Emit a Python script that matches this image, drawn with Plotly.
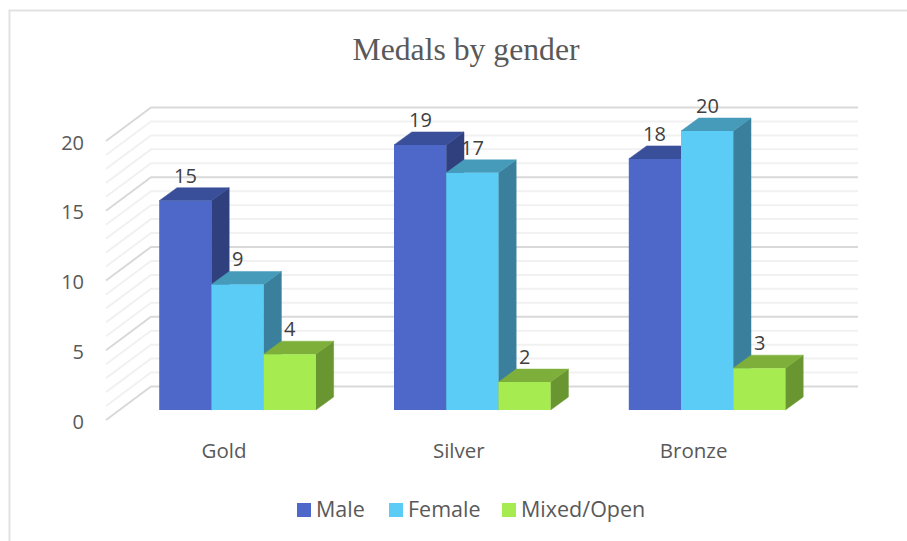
import plotly.graph_objects as go

categories = ["Gold", "Silver", "Bronze"]
male = [15, 19, 18]
female = [9, 17, 20]
mixed = [4, 2, 3]
series_names = ["Male", "Female", "Mixed/Open"]
y_ticks = [0, 5, 10, 15, 20]

W, H = 907, 541
L, R, T, B = 85, 870, 90, 436           # plot-area box, pixels
UX, UY = 234.8, 13.95                   # pixels per category / per medal
X0_PX, Y0_PX = 237.5, 410               # where category 0 / value 0 land
BAR = 52.2 / UX
DX, DY = 17.8 / UX, 13.0 / UY           # bar depth
WALL_FX, WALL_BX, WALL_RX = (106 - X0_PX) / UX, (151 - X0_PX) / UX, (858 - X0_PX) / UX
WALL_FY, WALL_BY = -10.0 / UY, 23.5 / UY

front = ["#4E68C9", "#5BCCF5", "#A6EB50"]
top = ["#3A4F99", "#469BBB", "#7EAF3B"]
side = ["#30407F", "#3A809C", "#6A9632"]
series = [male, female, mixed]
legend_swatch_px = [297, 389, 502]      # left edge of each legend square


def px(x):
    return (x - L) / (R - L)


def py(y):
    return (B - y) / (B - T)


def poly(xs, ys, color):
    path = "M" + " L".join(f"{a},{b}" for a, b in zip(xs, ys)) + " Z"
    return dict(type="path", path=path, xref="x", yref="y", layer="below",
                fillcolor=color, line=dict(color=color, width=0.5))


shapes = [dict(type="path", xref="paper", yref="paper", layer="below",
               path=f"M{px(9.5)},{py(541)} L{px(9.5)},{py(10.5)} L{px(907)},{py(10.5)}",
               line=dict(color="#E2E2E2", width=2))]

# walls: minor lines first, then major ones
for major in (False, True):
    for v in range(0, 21):
        if (v % 5 == 0) != major:
            continue
        color, width = ("#D9D9D9", 2) if major else ("#F1F1F1", 2)
        path = (f"M{WALL_FX},{v + WALL_FY} L{WALL_BX},{v + WALL_BY} L{WALL_RX},{v + WALL_BY}")
        shapes.append(dict(type="path", path=path, xref="x", yref="y", layer="below",
                           line=dict(color=color, width=width)))

# bar depth faces, left to right
annotations = []
for i in range(len(categories)):
    for k, vals in enumerate(series):
        v = vals[i]
        a = i + (k - 1.5) * BAR
        b = a + BAR
        shapes.append(poly([b, b + DX, b + DX, b], [0, DY, v + DY, v], side[k]))
        shapes.append(poly([a, a + DX, b + DX, b], [v, v + DY, v + DY, v], top[k]))
        annotations.append(dict(x=(a + b) / 2, y=v, yshift=25.5, text=str(v), showarrow=False,
                                xanchor="center", yanchor="middle",
                                font=dict(family="Open Sans", size=20, color="#404040")))

# legend row
for k, name in enumerate(series_names):
    x = legend_swatch_px[k]
    shapes.append(dict(type="rect", xref="paper", yref="paper", layer="above",
                       x0=px(x), x1=px(x + 14), y0=py(503), y1=py(517),
                       fillcolor=front[k], line=dict(width=0)))
    annotations.append(dict(xref="paper", yref="paper", x=px(x + 17), y=py(508.5), text=name,
                            showarrow=False, xanchor="left", yanchor="middle",
                            font=dict(family="Open Sans", size=21.5, color="#595959")))

fig = go.Figure()
xs = list(range(len(categories)))
for k, vals in enumerate(series):
    fig.add_trace(go.Bar(x=xs, y=vals, name=series_names[k], marker=dict(color=front[k], line=dict(width=0)),
                         hoverinfo="skip"))

fig.update_layout(
    width=W, height=H, margin=dict(l=L, r=W - R, t=T, b=H - B, pad=0),
    paper_bgcolor="white", plot_bgcolor="rgba(0,0,0,0)",
    barmode="group", bargap=1 - 3 * BAR, bargroupgap=0,
    shapes=shapes, annotations=annotations,
    title=dict(text="Medals by gender", x=px(466), xref="paper", xanchor="center",
               y=1 - 49 / H, yref="container", yanchor="middle",
               font=dict(family="Liberation Serif", size=31.7, color="#595959")),
    xaxis=dict(range=[(L - X0_PX) / UX, (R - X0_PX) / UX], tickvals=[x - 13.5 / UX for x in xs],
               ticktext=categories, showgrid=False, zeroline=False, showline=False, ticks="",
               tickfont=dict(family="Open Sans", size=20.5, color="#595959")),
    yaxis=dict(range=[(Y0_PX - B) / UY, (Y0_PX - T) / UY], tickvals=[v - 11.7 / UY for v in y_ticks],
               ticktext=[str(v) for v in y_ticks], showgrid=False, zeroline=False, showline=False, ticks="",
               tickfont=dict(family="Open Sans", size=20, color="#595959")),
    showlegend=False,
)

fig.write_html("out.html", config={"displayModeBar": False}, post_script="document.body.style.margin='0';")
